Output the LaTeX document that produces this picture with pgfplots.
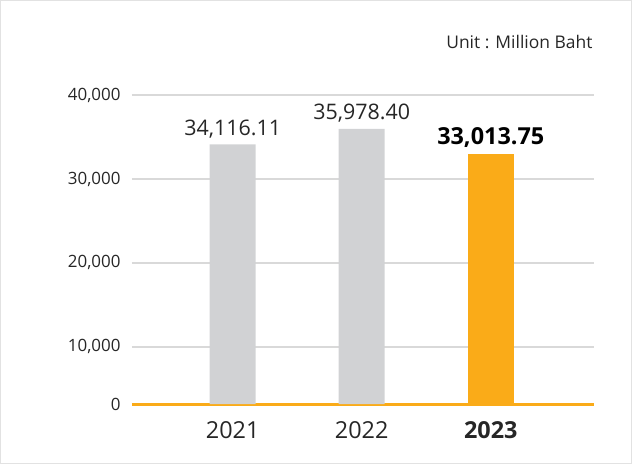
\documentclass[border=0pt]{standalone}
\usepackage{fontspec}
\setmainfont{Open Sans}
\usepackage{pgfplots}
\pgfplotsset{compat=1.18}
\definecolor{barGray}{HTML}{D1D2D4}
\definecolor{barOrange}{HTML}{FAAB18}
\definecolor{gridGray}{HTML}{D9D9D9}
\definecolor{txt}{HTML}{262626}
\definecolor{frameGray}{HTML}{E2E2E2}
\begin{document}
\begin{tikzpicture}
\begin{axis}[
  scale only axis, width=462bp, height=309bp,
  xmin=-0.78, xmax=2.8, ymin=3200, ymax=40000,
  axis x line*=bottom, axis y line*=left,
  x axis line style={barOrange, line width=3bp, -},
  y axis line style={draw=none},
  scaled y ticks=false,
  ytick={10000,20000,30000,40000},
  yticklabels={{10,000},{20,000},{30,000},{40,000}},
  extra y ticks={3200}, extra y tick labels={0},
  extra y tick style={grid=none},
  ymajorgrids, grid style={gridGray, line width=1.3bp},
  major tick length=0pt,
  xtick={0,1,2}, xticklabels={2021,2022,\textbf{2023}},
  yticklabel style={font=\fontsize{17}{20}\selectfont, text=txt, xshift=-8bp},
  xticklabel style={font=\fontsize{23.5}{28}\selectfont, text=txt, yshift=-14bp},
  ybar, bar width=46bp,
  point meta=explicit symbolic,
  nodes near coords={\pgfplotspointmeta},
  every node near coord/.append style={text=txt, yshift=3bp},
]
\addplot[fill=barGray, draw=none, bar shift=0pt,
  every node near coord/.append style={font=\fontsize{21.5}{25}\selectfont}]
  coordinates {(0,34116.11) [34,116.11] (1,35978.40) [35,978.40]};
\addplot[fill=barOrange, draw=none, bar shift=0pt,
  every node near coord/.append style={font=\fontsize{23.5}{28}\selectfont\bfseries, text=black}]
  coordinates {(2,33013.75) [33,013.75]};
\coordinate (O) at (rel axis cs:0,0);
\coordinate (TR) at (rel axis cs:1,1);
\end{axis}
\node[anchor=east, text=txt, font=\fontsize{17.5}{21}\selectfont] at ([xshift=2bp,yshift=53bp]TR) {Unit : Million Baht};
\draw[frameGray, line width=1bp] (O) ++(-131.5bp,-59.5bp) rectangle ++(631bp,463bp);
\end{tikzpicture}
\end{document}
